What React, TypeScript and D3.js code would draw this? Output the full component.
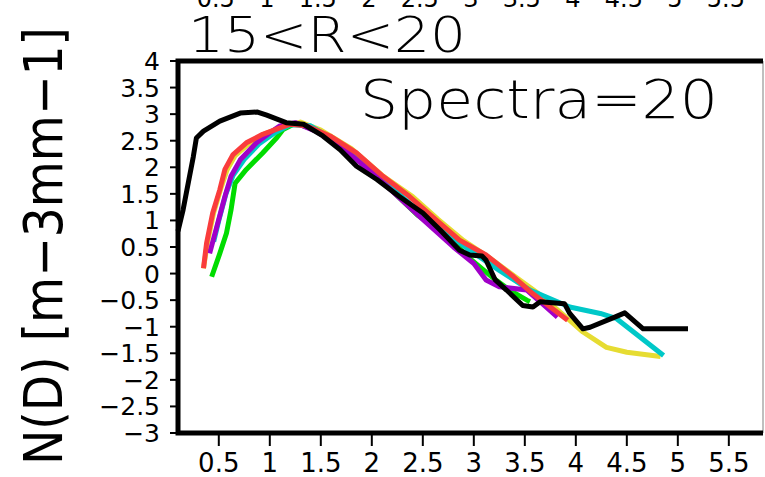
import * as d3 from 'd3';
import React, { useRef, useEffect } from 'react';

// tick values
const xTicks = [0.5, 1, 1.5, 2, 2.5, 3, 3.5, 4, 4.5, 5, 5.5];
const yTicks = [4, 3.5, 3, 2.5, 2, 1.5, 1, 0.5, 0, -0.5, -1, -1.5, -2, -2.5, -3];

// series (diameter mm, log10 N(D))
const blackX = [0.1, 0.15, 0.25, 0.28, 0.35, 0.51, 0.71, 0.88, 0.97, 1.16, 1.33, 1.52, 1.69, 1.85, 2.05, 2.27, 2.5, 2.67, 2.86, 2.96, 3.08, 3.12, 3.21, 3.32, 3.48, 3.58, 3.65, 3.89, 3.94, 4.07, 4.14, 4.37, 4.48, 4.66, 5.1];
const blackY = [0.8, 1.2, 2.2, 2.55, 2.68, 2.87, 3.02, 3.04, 2.98, 2.84, 2.81, 2.59, 2.33, 2.02, 1.77, 1.45, 1.14, 0.82, 0.44, 0.35, 0.33, 0.25, -0.12, -0.31, -0.6, -0.63, -0.53, -0.57, -0.75, -1.04, -1.01, -0.83, -0.74, -1.04, -1.04];

const redX = [0.35, 0.38, 0.44, 0.51, 0.56, 0.64, 0.77, 0.93, 1.1, 1.2, 1.36, 1.59, 1.85, 2.11, 2.37, 2.63, 2.86, 3.12, 3.39, 3.58, 3.92];
const redY = [0.1, 0.57, 1.14, 1.58, 1.96, 2.24, 2.46, 2.62, 2.74, 2.81, 2.78, 2.59, 2.27, 1.83, 1.45, 1.01, 0.63, 0.35, -0.06, -0.38, -0.88];

const purpleX = [0.41, 0.48, 0.56, 0.62, 0.71, 0.87, 1.0, 1.1, 1.25, 1.45, 1.69, 2.01, 2.47, 2.8, 3.0, 3.12, 3.25, 3.52, 3.71, 3.82];
const purpleY = [0.38, 0.88, 1.45, 1.83, 2.14, 2.46, 2.65, 2.78, 2.84, 2.68, 2.4, 1.89, 1.07, 0.5, 0.19, -0.12, -0.25, -0.31, -0.63, -0.82];

const cyanX = [0.45, 0.5, 0.57, 0.64, 0.75, 0.9, 1.05, 1.2, 1.4, 1.7, 2.0, 2.5, 2.96, 3.25, 3.55, 3.71, 3.94, 4.24, 4.4, 4.86];
const cyanY = [0.6, 1.0, 1.5, 1.85, 2.15, 2.45, 2.65, 2.8, 2.78, 2.42, 1.95, 1.1, 0.44, 0.06, -0.31, -0.44, -0.63, -0.75, -0.85, -1.54];

const greenX = [0.43, 0.51, 0.575, 0.62, 0.66, 0.77, 0.93, 1.07, 1.13, 1.25, 1.45, 1.7, 2.0, 2.45, 2.76, 2.95, 3.2, 3.35, 3.52, 3.55];
const greenY = [-0.06, 0.38, 0.76, 1.2, 1.7, 1.96, 2.27, 2.56, 2.71, 2.83, 2.7, 2.4, 1.92, 1.1, 0.69, 0.3, -0.1, -0.31, -0.5, -0.53];

const yellowX = [0.35, 0.39, 0.45, 0.52, 0.58, 0.66, 0.8, 0.95, 1.12, 1.3, 1.5, 1.8, 2.1, 2.4, 2.65, 2.9, 3.15, 3.4, 3.65, 3.94, 4.07, 4.3, 4.5, 4.83];
const yellowY = [0.1, 0.6, 1.15, 1.6, 1.95, 2.22, 2.45, 2.63, 2.75, 2.85, 2.7, 2.35, 1.85, 1.45, 1.02, 0.62, 0.3, -0.05, -0.4, -0.88, -1.1, -1.39, -1.48, -1.56];

const series = [
    { xs: yellowX, ys: yellowY, color: '#e6dc32' },
    { xs: greenX, ys: greenY, color: '#00dc00' },
    { xs: cyanX, ys: cyanY, color: '#00c8c8' },
    { xs: purpleX, ys: purpleY, color: '#a000c8' },
    { xs: redX, ys: redY, color: '#fa3c3c' },
    { xs: blackX, ys: blackY, color: '#000000' },
];

const fmt = (v: number) => (v < 0 ? '\u2212' + String(-v) : String(v));

function Chart({ width, height }: { width: number; height: number }) {
    const ref = useRef<SVGSVGElement>(null);

    useEffect(() => {
        const svg = d3.select(ref.current);
        svg.selectAll('*').remove();

        const left = 178, right = 763, top = 61, bottom = 433;
        const x = d3.scaleLinear().domain([0.1, 5.835]).range([left, right]);
        const y = d3.scaleLinear().domain([-3, 4]).range([bottom, top]);
        const font = "'DejaVu Sans', sans-serif";

        svg.append('rect').attr('width', width).attr('height', height).attr('fill', '#fff');

        // bits of the panel above, cut off by the top edge
        svg.append('g').selectAll('text').data(xTicks).enter().append('text')
            .attr('x', d => x(d) - 3).attr('y', 7)
            .attr('text-anchor', 'middle')
            .attr('font-family', font).attr('font-size', 24)
            .text(d => String(d));

        // curves
        series.forEach(s => {
            const pts = s.xs.map((v, i) => [v, s.ys[i]] as [number, number]);
            const path = d3.line<[number, number]>()
                .x(d => x(d[0]))
                .y(d => y(d[1]))(pts);
            svg.append('path')
                .attr('d', path)
                .attr('fill', 'none')
                .attr('stroke', s.color)
                .attr('stroke-width', s.color === '#000000' ? 5 : 5)
                .attr('stroke-linejoin', 'round');
        });

        // frame
        svg.append('line').attr('x1', right).attr('x2', right).attr('y1', top).attr('y2', bottom)
            .attr('stroke', '#aaa').attr('stroke-width', 1.5);
        svg.append('path')
            .attr('d', `M${right},${top}H${left}V${bottom}H${right}`)
            .attr('fill', 'none').attr('stroke', '#000').attr('stroke-width', 5);

        // y ticks
        const gy = svg.append('g');
        gy.selectAll('line').data(yTicks).enter().append('line')
            .attr('x1', left - 8).attr('x2', left)
            .attr('y1', d => y(d)).attr('y2', d => y(d))
            .attr('stroke', '#000').attr('stroke-width', 2);
        gy.selectAll('text').data(yTicks).enter().append('text')
            .attr('x', 160).attr('y', d => y(d) + 9)
            .attr('text-anchor', 'end')
            .attr('font-family', font).attr('font-size', 25)
            .text(d => fmt(d));

        // x ticks
        const gx = svg.append('g');
        gx.selectAll('line').data(xTicks).enter().append('line')
            .attr('x1', d => x(d)).attr('x2', d => x(d))
            .attr('y1', bottom).attr('y2', bottom + 13)
            .attr('stroke', '#000').attr('stroke-width', 2);
        gx.selectAll('text').data(xTicks).enter().append('text')
            .attr('x', d => x(d)).attr('y', 472)
            .attr('text-anchor', 'middle')
            .attr('font-family', font).attr('font-size', 26)
            .text(d => String(d));

        // titles
        svg.append('text')
            .attr('x', 188).attr('y', 52)
            .attr('font-family', font).attr('font-size', 50).attr('font-weight', 200)
            .attr('textLength', 278).attr('lengthAdjust', 'spacingAndGlyphs')
            .text('15<R<20');
        svg.append('text')
            .attr('x', 360).attr('y', 118)
            .attr('font-family', font).attr('font-size', 54).attr('font-weight', 200)
            .attr('textLength', 358).attr('lengthAdjust', 'spacingAndGlyphs')
            .text('Spectra=20');

        // y label
        svg.append('text')
            .attr('transform', 'translate(62,465) rotate(-90)')
            .attr('font-family', font).attr('font-size', 54)
            .attr('textLength', 438).attr('lengthAdjust', 'spacingAndGlyphs')
            .text('N(D) [m\u22123mm\u22121]');
    }, [width, height]);

    return (
        <svg ref={ref} width={width} height={height}
            style={{ position: 'absolute', left: 0, top: 0, display: 'block' }} />
    );
}

export default function App() {
    return (
        <div className="chart">
            <Chart width={765} height={477} />
        </div>
    );
}
